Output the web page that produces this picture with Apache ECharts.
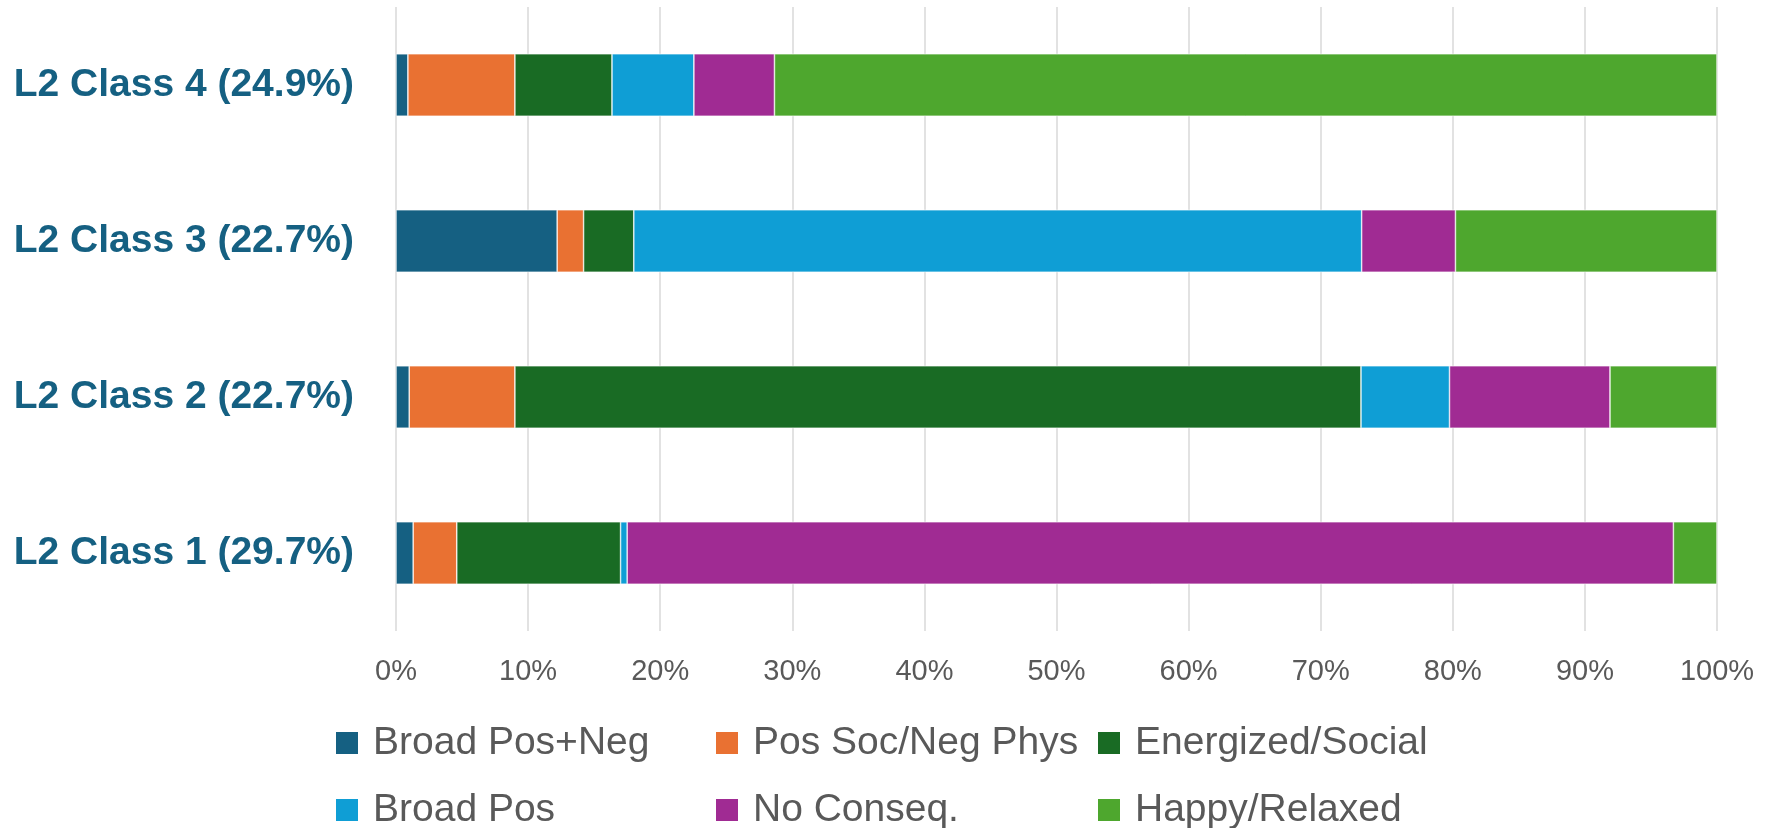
<!DOCTYPE html>
<html>
<head>
<meta charset="utf-8">
<script src="https://cdn.jsdelivr.net/npm/echarts@6/dist/echarts.min.js"></script>
<style>
html,body{margin:0;padding:0;background:#fff;}
#chart{width:1773px;height:828px;}
</style>
</head>
<body>
<div id="chart"></div>
<script>
// Categories, bottom to top
const categories = ['L2 Class 1 (29.7%)', 'L2 Class 2 (22.7%)', 'L2 Class 3 (22.7%)', 'L2 Class 4 (24.9%)'];
const seriesNames = ['Broad Pos+Neg', 'Pos Soc/Neg Phys', 'Energized/Social', 'Broad Pos', 'No Conseq.', 'Happy/Relaxed'];
// Percent values per category (Class 1..4)
const broadPosNeg   = [1.3, 1.0, 12.2, 0.9];
const posSocNegPhys = [3.3, 8.0, 2.0, 8.1];
const energizedSoc  = [12.4, 64.05, 3.8, 7.35];
const broadPos      = [0.5, 6.7, 55.1, 6.2];
const noConseq      = [79.2, 12.15, 7.1, 6.1];
const happyRelaxed  = [3.3, 8.1, 19.8, 71.35];
const xTicks = [0, 100, 10]; // min, max, interval

const colors = ['#156082', '#E97132', '#196B24', '#0F9ED5', '#A02B93', '#4EA72E'];
const values = [broadPosNeg, posSocNegPhys, energizedSoc, broadPos, noConseq, happyRelaxed];

const legendPos = [
  {left: 334, top: 723}, {left: 714, top: 723}, {left: 1096, top: 723},
  {left: 334, top: 790}, {left: 714, top: 790}, {left: 1096, top: 790}
];

const chart = echarts.init(document.getElementById('chart'), null, {renderer: 'canvas'});
chart.setOption({
  animation: false,
  backgroundColor: '#ffffff',
  color: colors,
  grid: {left: 396, right: 56, top: 7, bottom: 197, containLabel: false},
  xAxis: {
    type: 'value', min: xTicks[0], max: xTicks[1], interval: xTicks[2],
    axisLine: {show: false}, axisTick: {show: false},
    splitLine: {show: true, lineStyle: {color: '#d9d9d9', width: 1.5}},
    axisLabel: {formatter: '{value}%', color: '#595959', fontSize: 29, fontFamily: 'Liberation Sans', margin: 26}
  },
  yAxis: {
    type: 'category', data: categories,
    axisLine: {show: false}, axisTick: {show: false},
    axisLabel: {color: '#156082', fontSize: 39, fontWeight: 'bold', fontFamily: 'Liberation Sans', margin: 42, padding: [4, 0, 0, 0]}
  },
  legend: legendPos.map((p, i) => ({
    data: [seriesNames[i]], left: p.left, top: p.top, padding: 0,
    icon: 'rect', itemWidth: 24, itemHeight: 24,
    textStyle: {color: '#595959', fontSize: 39, fontFamily: 'Liberation Sans', lineHeight: 40, padding: [0, 0, 0, 9]}
  })),
  series: seriesNames.map((name, i) => ({
    name: name, type: 'bar', stack: 'total', data: values[i],
    barWidth: '40%',
    itemStyle: {color: colors[i], borderColor: '#ffffff', borderWidth: 0.6}
  }))
});
</script>
</body>
</html>
